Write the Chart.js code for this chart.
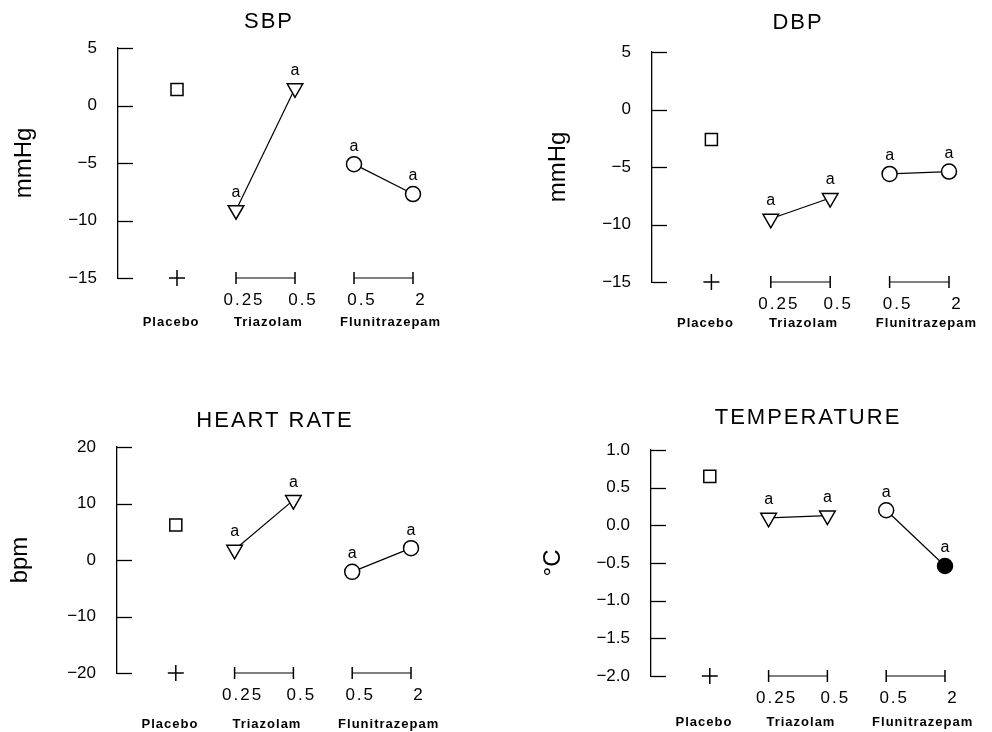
<!DOCTYPE html>
<html>
<head>
<meta charset="utf-8">
<script src="https://cdn.jsdelivr.net/npm/chart.js@4"></script>
<style>
  body { margin: 0; background: #fff; }
  #wrap { position: relative; width: 992px; height: 732px; }
  #wrap canvas { position: absolute; }
</style>
</head>
<body>
<div id="wrap">
  <canvas id="sbp" width="496" height="366" style="left:0;top:0"></canvas>
  <canvas id="dbp" width="496" height="366" style="left:496px;top:0"></canvas>
  <canvas id="hr" width="496" height="366" style="left:0;top:366px"></canvas>
  <canvas id="temp" width="496" height="366" style="left:496px;top:366px"></canvas>
</div>
<script>
//values
const groups = ["Placebo", "Triazolam", "Flunitrazepam"];
const doses = ["0.25", "0.5", "0.5", "2"];
//x slots: placebo, triazolam 0.25 / 0.5, flunitrazepam 0.5 / 2
const slots = [1, 2, 3, 4, 5];
const sbp = [1.4, -9.1, 1.5, -5.1, -7.7];
const dbp = [-2.6, -9.5, -7.7, -5.6, -5.4];
const heartRate = [6.2, 1.8, 10.6, -2.1, 2.1];
const temperature = [0.65, 0.1, 0.13, 0.2, -0.54];
const marks = ["", "a", "a", "a", "a"];
const tempFilled = [false, false, false, false, true];

Chart.defaults.font.family = "'Liberation Sans', Arial, sans-serif";
Chart.defaults.color = "#000";

const minus = (s) => s.replace("-", "\u2212");

//text and inward ticks drawn on top of each panel
const panelText = {
  id: "panelText",
  afterDraw(chart, args, opts) {
    const ctx = chart.ctx;
    const area = chart.chartArea;
    const x = chart.scales.x;
    const y = chart.scales.y;
    ctx.save();
    ctx.strokeStyle = "#000";
    ctx.lineWidth = 1.3;
    y.ticks.forEach((t) => {
      const py = Math.round(y.getPixelForValue(t.value)) + 0.5;
      ctx.beginPath();
      ctx.moveTo(area.left, py);
      ctx.lineTo(area.left + 15, py);
      ctx.stroke();
    });

    ctx.fillStyle = "#000";
    ctx.textAlign = "center";
    ctx.textBaseline = "middle";
    ctx.font = "22px 'Liberation Sans', Arial, sans-serif";
    ctx.letterSpacing = "2px";
    ctx.fillText(opts.title, opts.titleX, opts.titleY);

    ctx.font = "17px 'Liberation Sans', Arial, sans-serif";
    ctx.letterSpacing = "2px";
    doses.forEach((d, i) => {
      ctx.fillText(d, x.getPixelForValue(slots[i + 1]) + 8, area.bottom + 22);
    });

    ctx.font = "bold 13px 'Liberation Sans', Arial, sans-serif";
    ctx.letterSpacing = "1px";
    const centers = [slots[0] - 0.1, (slots[1] + slots[2]) / 2 + 0.05, (slots[3] + slots[4]) / 2 + 0.12];
    groups.forEach((g, i) => {
      ctx.fillText(g, x.getPixelForValue(centers[i]), area.bottom + opts.groupDy);
    });

    ctx.font = "16px 'Liberation Sans', Arial, sans-serif";
    ctx.letterSpacing = "0px";
    [2, 3].forEach((di) => {
      chart.getDatasetMeta(di).data.forEach((pt, j) => {
        const m = marks[di === 2 ? j + 1 : j + 3];
        if (m) ctx.fillText(m, pt.x, pt.y - 18);
      });
    });
    ctx.restore();
  },
};

function makePanel(id, values, cfg) {
  const base = cfg.min;
  const point = (i) => ({ x: slots[i], y: values[i] });
  new Chart(document.getElementById(id), {
    type: "scatter",
    data: {
      datasets: [
        { data: [point(0)], pointStyle: "rect", pointRadius: 8.5 },
        { data: [{ x: slots[0], y: base }], pointStyle: "cross", pointRadius: 8 },
        {
          data: [point(1), point(2)],
          showLine: true,
          pointStyle: "triangle",
          pointRotation: 180,
          pointRadius: 9,
        },
        {
          data: [point(3), point(4)],
          showLine: true,
          pointStyle: "circle",
          pointRadius: 7.5,
          pointBackgroundColor: (c) => (cfg.filled && cfg.filled[c.dataIndex + 3] ? "#000" : "#fff"),
        },
        {
          data: [{ x: slots[1], y: base }, { x: slots[2], y: base }],
          showLine: true,
          pointStyle: "line",
          pointRotation: 90,
          pointRadius: 6,
        },
        {
          data: [{ x: slots[3], y: base }, { x: slots[4], y: base }],
          showLine: true,
          pointStyle: "line",
          pointRotation: 90,
          pointRadius: 6,
        },
      ],
    },
    options: {
      responsive: false,
      animation: false,
      events: [],
      clip: false,
      layout: {
        padding: { left: 0, top: cfg.area[1], right: 496 - cfg.area[2], bottom: 366 - cfg.area[3] },
      },
      elements: {
        point: { borderColor: "#000", backgroundColor: "#fff", borderWidth: 1.5 },
        line: { borderColor: "#000", borderWidth: 1.2 },
      },
      plugins: {
        legend: { display: false },
        tooltip: { enabled: false },
        panelText: { title: cfg.title, titleX: cfg.titleX, titleY: cfg.titleY, groupDy: cfg.groupDy },
      },
      scales: {
        x: { type: "linear", min: 0, max: 5, display: false },
        y: {
          min: cfg.min,
          max: cfg.max,
          afterFit: (s) => { s.width = cfg.area[0]; },
          grid: { display: false },
          border: { display: true, color: "#000", width: 1.3 },
          ticks: {
            stepSize: cfg.step,
            padding: 13,
            font: { size: 17 },
            callback: (v) => minus(cfg.decimals ? v.toFixed(cfg.decimals) : String(v)),
          },
          title: {
            display: true,
            text: cfg.yTitle,
            font: { size: 24 },
            padding: { top: cfg.yTitlePad, bottom: 0 },
          },
        },
      },
    },
    plugins: [panelText],
  });
}

makePanel("sbp", sbp, {
  title: "SBP", titleX: 269, titleY: 22, yTitle: "mmHg", yTitlePad: 10,
  min: -15, max: 5, step: 5, area: [118, 48, 413, 278], groupDy: 44,
});
makePanel("dbp", dbp, {
  title: "DBP", titleX: 302, titleY: 23, yTitle: "mmHg", yTitlePad: 48,
  min: -15, max: 5, step: 5, area: [156, 52, 453, 282], groupDy: 41,
});
makePanel("hr", heartRate, {
  title: "HEART RATE", titleX: 275, titleY: 55, yTitle: "bpm", yTitlePad: 6,
  min: -20, max: 20, step: 10, area: [117, 81, 411, 307], groupDy: 51,
});
makePanel("temp", temperature, {
  title: "TEMPERATURE", titleX: 312, titleY: 52, yTitle: "\u00B0C", yTitlePad: 43,
  min: -2, max: 1, step: 0.5, decimals: 1, area: [155, 84, 449, 310], groupDy: 46,
  filled: tempFilled,
});
</script>
</body>
</html>
